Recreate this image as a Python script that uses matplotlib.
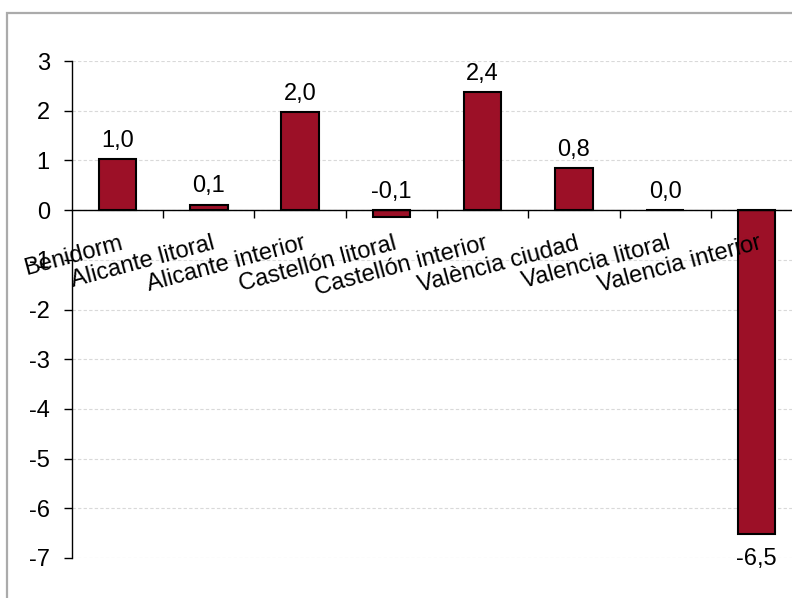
import matplotlib
matplotlib.use("Agg")
import matplotlib.pyplot as plt
from matplotlib.patches import Rectangle

plt.rcParams['font.family'] = ['Liberation Sans', 'DejaVu Sans']

categories = ["Benidorm", "Alicante litoral", "Alicante interior", "Castellón litoral",
              "Castellón interior", "València ciudad", "Valencia litoral", "Valencia interior"]
values = [1.02, 0.11, 1.97, -0.13, 2.37, 0.84, 0.0, -6.52]
yticks = [3, 2, 1, 0, -1, -2, -3, -4, -5, -6, -7]

FS = 17
W, H = 792, 598
fig = plt.figure(figsize=(W / 100, H / 100), dpi=100)

# outer chart frame (extends beyond right/bottom edges)
fig.patches.append(Rectangle((6.5 / W, -0.2), 1.2, (H - 12.5) / H + 0.2,
                             transform=fig.transFigure, fill=False,
                             edgecolor='#ABABAB', linewidth=1.6))

ax = fig.add_axes([72 / W, 40 / H, 730 / W, 497 / H])
x = list(range(len(categories)))
ax.bar(x, values, width=0.41, color='#9C1027', edgecolor='black', linewidth=1.5, zorder=3)

ax.set_xlim(-0.5, len(categories) - 0.5)
ax.set_ylim(-7, 3)
ax.set_yticks(yticks)
ax.set_yticklabels([str(t) for t in yticks], fontsize=FS)
ax.tick_params(axis='y', direction='out', length=6, width=1, pad=10)
ax.set_xticks([i + 0.5 for i in x[:-1]])
ax.set_xticklabels([])
ax.tick_params(axis='x', direction='out', length=6, width=1)

for y in yticks:
    ax.axhline(y, color='#D9D9D9', linewidth=0.8, linestyle=(0, (3, 2)), zorder=0)

for s in ['top', 'right']:
    ax.spines[s].set_visible(False)
ax.spines['bottom'].set_position(('data', 0))
ax.spines['bottom'].set_zorder(4)
ax.spines['left'].set_linewidth(1)
ax.spines['bottom'].set_linewidth(1)

for i, v in enumerate(values):
    lab = f"{v:.1f}".replace('.', ',')
    if v > -1:
        ax.annotate(lab, (i, max(v, 0)), xytext=(0, 9), textcoords='offset points',
                    ha='center', va='baseline', fontsize=FS, zorder=5)
    else:
        ax.annotate(lab, (i, v), xytext=(0, -10), textcoords='offset points',
                    ha='center', va='top', fontsize=FS, zorder=5)

for i, c in enumerate(categories):
    ax.annotate(c, (i, 0), xytext=(1.5, -16), textcoords='offset points',
                ha='right', va='top', rotation=15, rotation_mode='anchor',
                fontsize=FS, zorder=6)

fig.savefig("out.png", dpi=100)
